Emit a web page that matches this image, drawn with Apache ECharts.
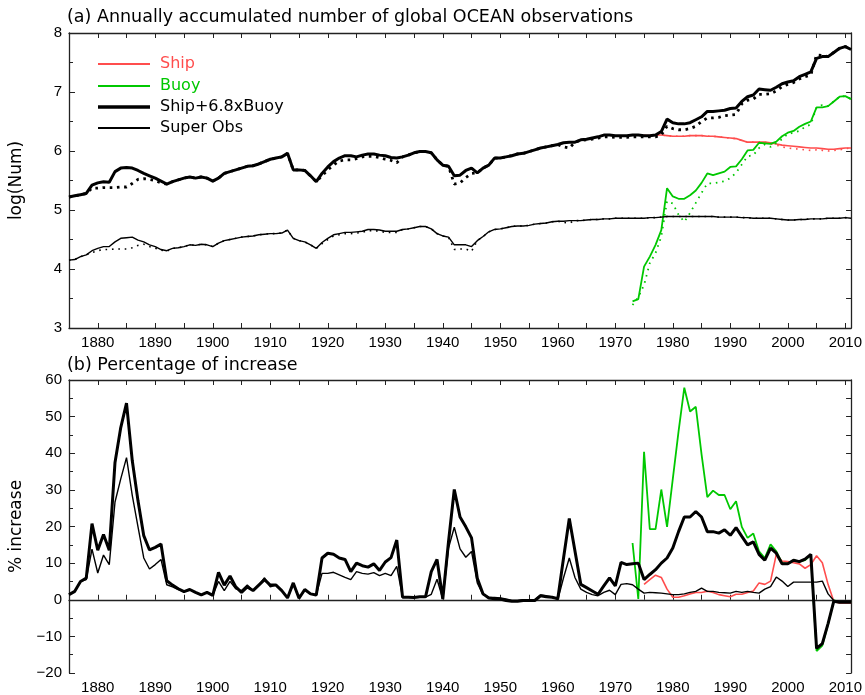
<!DOCTYPE html>
<html>
<head>
<meta charset="utf-8">
<script src="https://cdn.jsdelivr.net/npm/echarts@6/dist/echarts.min.js"></script>
<style>html,body{margin:0;padding:0;background:#fff}#c{width:865px;height:695px}</style>
</head>
<body>
<div id="c"></div>
<script>
// ---------- data (years 1875..2011 unless a start year is given) ----------
const START_YEAR = 1875;
const X_TICK_LABELS = [1880, 1890, 1900, 1910, 1920, 1930, 1940, 1950, 1960, 1970, 1980, 1990, 2000, 2010];

// (a) log10 of annually accumulated number of observations
const shipBuoyLog = [
  5.22, 5.24, 5.26, 5.28, 5.42,
  5.46, 5.48, 5.47, 5.65, 5.71, 5.72, 5.71, 5.67, 5.62, 5.58,
  5.54, 5.49, 5.44, 5.48, 5.51, 5.54, 5.56, 5.54, 5.56, 5.54,
  5.49, 5.54, 5.62, 5.65, 5.68, 5.71, 5.74, 5.75, 5.78, 5.82,
  5.86, 5.88, 5.90, 5.96, 5.68, 5.68, 5.67, 5.58, 5.48, 5.62,
  5.73, 5.82, 5.88, 5.92, 5.92, 5.90, 5.93, 5.95, 5.95, 5.93,
  5.92, 5.89, 5.88, 5.90, 5.93, 5.97, 5.99, 5.99, 5.97, 5.85,
  5.76, 5.74, 5.58, 5.59, 5.67, 5.71, 5.63, 5.71, 5.76, 5.88,
  5.88, 5.90, 5.92, 5.95, 5.96, 5.99, 6.02, 6.05, 6.07, 6.09,
  6.11, 6.14, 6.15, 6.15, 6.19, 6.20, 6.22, 6.24, 6.27, 6.27,
  6.26, 6.26, 6.26, 6.27, 6.27, 6.26, 6.26, 6.27, 6.33, 6.54,
  6.48, 6.46, 6.46, 6.48, 6.53, 6.58, 6.67, 6.67, 6.68, 6.69,
  6.72, 6.73, 6.84, 6.92, 6.95, 7.05, 7.04, 7.03, 7.08, 7.14,
  7.17, 7.19, 7.26, 7.30, 7.34, 7.57, 7.60, 7.60, 7.67, 7.74,
  7.77, 7.72
];
const shipBuoyLogDotted = [
  5.22, 5.24, 5.26, 5.28, 5.37,
  5.37, 5.38, 5.38, 5.38, 5.39, 5.39, 5.45, 5.52, 5.53, 5.52,
  5.50, 5.46, 5.44, 5.48, 5.51, 5.54, 5.56, 5.54, 5.56, 5.54,
  5.49, 5.54, 5.62, 5.65, 5.68, 5.71, 5.74, 5.75, 5.78, 5.82,
  5.86, 5.88, 5.90, 5.96, 5.68, 5.68, 5.67, 5.58, 5.48, 5.58,
  5.68, 5.76, 5.83, 5.85, 5.85, 5.87, 5.90, 5.91, 5.91, 5.89,
  5.86, 5.84, 5.80, 5.90, 5.93, 5.97, 5.99, 5.99, 5.97, 5.85,
  5.76, 5.74, 5.44, 5.46, 5.55, 5.62, 5.63, 5.71, 5.76, 5.88,
  5.88, 5.90, 5.92, 5.95, 5.96, 5.99, 6.02, 6.05, 6.07, 6.09,
  6.11, 6.07, 6.05, 6.15, 6.18, 6.19, 6.20, 6.22, 6.24, 6.24,
  6.23, 6.23, 6.23, 6.24, 6.24, 6.24, 6.24, 6.24, 6.27, 6.42,
  6.38, 6.36, 6.36, 6.38, 6.42, 6.50, 6.56, 6.56, 6.57, 6.60,
  6.61, 6.62, 6.80, 6.86, 6.88, 6.96, 6.96, 6.97, 7.02, 7.09,
  7.13, 7.16, 7.22, 7.26, 7.29, 7.63, 7.62, 7.60, 7.67, 7.74,
  7.77, 7.72
];
const superObsLog = [
  4.15, 4.16, 4.21, 4.24, 4.31,
  4.35, 4.38, 4.38, 4.46, 4.52, 4.53, 4.54, 4.49, 4.46, 4.41,
  4.38, 4.33, 4.31, 4.35, 4.36, 4.38, 4.41, 4.40, 4.42, 4.41,
  4.38, 4.44, 4.48, 4.50, 4.52, 4.54, 4.55, 4.56, 4.58, 4.59,
  4.60, 4.60, 4.61, 4.66, 4.52, 4.48, 4.46, 4.41, 4.35, 4.45,
  4.52, 4.58, 4.60, 4.62, 4.62, 4.63, 4.64, 4.67, 4.67, 4.66,
  4.64, 4.64, 4.64, 4.67, 4.68, 4.70, 4.72, 4.72, 4.68, 4.60,
  4.56, 4.54, 4.41, 4.41, 4.41, 4.38, 4.48, 4.55, 4.63, 4.67,
  4.68, 4.70, 4.72, 4.73, 4.73, 4.74, 4.76, 4.77, 4.78, 4.80,
  4.81, 4.81, 4.82, 4.82, 4.82, 4.83, 4.84, 4.84, 4.85, 4.85,
  4.86, 4.86, 4.86, 4.86, 4.86, 4.86, 4.87, 4.87, 4.88, 4.89,
  4.89, 4.89, 4.89, 4.89, 4.89, 4.89, 4.89, 4.89, 4.88, 4.88,
  4.88, 4.88, 4.87, 4.87, 4.86, 4.86, 4.86, 4.86, 4.85, 4.84,
  4.83, 4.83, 4.84, 4.84, 4.85, 4.85, 4.85, 4.86, 4.86, 4.86,
  4.87, 4.86
];
const superObsLogDotted = [
  4.15, 4.16, 4.21, 4.24, 4.28,
  4.31, 4.33, 4.33, 4.34, 4.34, 4.34, 4.36, 4.40, 4.42, 4.38,
  4.35, 4.32, 4.30, 4.35, 4.36, 4.38, 4.41, 4.40, 4.42, 4.41,
  4.38, 4.44, 4.48, 4.50, 4.52, 4.54, 4.55, 4.56, 4.58, 4.59,
  4.60, 4.60, 4.61, 4.66, 4.52, 4.48, 4.46, 4.41, 4.35, 4.43,
  4.50, 4.56, 4.58, 4.60, 4.60, 4.61, 4.62, 4.65, 4.65, 4.64,
  4.62, 4.62, 4.62, 4.67, 4.68, 4.70, 4.72, 4.72, 4.68, 4.60,
  4.56, 4.54, 4.33, 4.34, 4.34, 4.30, 4.48, 4.55, 4.63, 4.67,
  4.68, 4.70, 4.72, 4.73, 4.73, 4.74, 4.76, 4.77, 4.78, 4.80,
  4.81, 4.79, 4.78, 4.82, 4.82, 4.83, 4.84, 4.84, 4.85, 4.85,
  4.86, 4.86, 4.86, 4.86, 4.86, 4.86, 4.87, 4.87, 4.88, 4.89,
  4.89, 4.89, 4.89, 4.89, 4.89, 4.89, 4.89, 4.89, 4.88, 4.88,
  4.88, 4.88, 4.87, 4.87, 4.86, 4.86, 4.86, 4.86, 4.85, 4.84,
  4.83, 4.83, 4.84, 4.84, 4.85, 4.85, 4.85, 4.86, 4.86, 4.86,
  4.87, 4.86
];
const SHIP_START = 1975;
const shipLog = [
  6.26, 6.26, 6.27, 6.27, 6.26,
  6.25, 6.25, 6.25, 6.26, 6.26, 6.26, 6.25, 6.25, 6.24, 6.23,
  6.22, 6.21, 6.18, 6.15, 6.15, 6.15, 6.15, 6.14, 6.12, 6.10,
  6.09, 6.08, 6.07, 6.06, 6.05, 6.05, 6.04, 6.03, 6.03, 6.04,
  6.05, 6.05
];
const shipLogDotted = [
  6.26, 6.26, 6.27, 6.27, 6.26,
  6.25, 6.25, 6.25, 6.26, 6.26, 6.26, 6.25, 6.25, 6.24, 6.23,
  6.22, 6.21, 6.18, 6.15, 6.15, 6.15, 6.15, 6.12, 6.10, 6.07,
  6.05, 6.04, 6.03, 6.02, 6.01, 6.02, 6.01, 6.00, 6.01, 6.02,
  6.04, 6.05
];
const BUOY_START = 1973;
const buoyLog = [
  3.45, 3.49, 4.04, 4.21, 4.41, 4.66, 5.37,
  5.23, 5.19, 5.19, 5.25, 5.33, 5.46, 5.62, 5.59, 5.62, 5.65,
  5.73, 5.74, 5.86, 6.01, 6.02, 6.14, 6.13, 6.12, 6.16, 6.25,
  6.31, 6.34, 6.41, 6.46, 6.50, 6.74, 6.74, 6.76, 6.84, 6.92,
  6.93, 6.88
];
const buoyLogDotted = [
  3.39, 3.52, 3.73, 4.10, 4.27, 4.55, 5.15,
  5.11, 4.92, 4.80, 4.95, 5.12, 5.29, 5.45, 5.45, 5.47, 5.49,
  5.54, 5.63, 5.77, 5.91, 5.93, 6.05, 6.11, 6.07, 6.14, 6.20,
  6.29, 6.31, 6.34, 6.41, 6.45, 6.74, 6.78, 6.76, 6.84, 6.92,
  6.93, 6.88
];

// (b) percentage of increase
const shipBuoyPct = [
  1.4, 2.3, 5.0, 5.9, 20.8,
  13.5, 17.8, 13.5, 37.5, 47.0, 53.7, 38.0, 27.0, 17.5, 13.6,
  14.3, 15.2, 5.2, 4.0, 3.0, 2.2, 2.8, 2.0, 1.3, 2.0,
  1.2, 7.5, 4.0, 6.5, 3.5, 2.0, 3.5, 2.5, 4.0, 5.5,
  4.0, 4.0, 2.5, 0.5, 4.6, 0.4, 2.8, 1.6, 1.3, 11.4,
  12.7, 12.4, 11.4, 11.0, 7.7, 10.0, 9.3, 8.9, 9.8, 8.0,
  10.3, 11.5, 16.3, 0.7, 0.7, 0.6, 0.8, 0.8, 7.7, 11.0,
  0.2, 15.9, 30.1, 22.6, 19.9, 16.9, 5.9, 1.6, 0.5, 0.3,
  0.2, -0.2, -0.4, -0.4, -0.2, -0.2, -0.2, 1.1, 0.8, 0.7,
  0.3, 11.4, 22.2, 13.2, 4.2, 3.3, 2.4, 1.5, 3.8, 6.0,
  3.8, 10.2, 9.6, 9.8, 10.0, 5.5, 6.9, 8.2, 10.0, 11.4,
  14.1, 18.6, 22.6, 22.6, 24.1, 22.6, 18.6, 18.6, 18.2, 19.1,
  17.6, 19.7, 17.3, 15.0, 15.8, 12.4, 10.8, 14.1, 12.7, 9.8,
  9.8, 10.8, 10.4, 11.1, 12.4, -13.3, -12.0, -6.5, -0.4, -0.7,
  -0.7, -0.7
];
const superObsPct = [
  1.4, 2.3, 5.0, 5.5, 13.8,
  7.3, 12.2, 9.6, 26.7, 33.0, 38.8, 28.5, 19.9, 11.4, 8.4,
  9.6, 11.0, 4.1, 3.5, 2.8, 2.2, 2.8, 2.0, 1.3, 2.0,
  1.2, 5.0, 2.5, 5.0, 3.0, 2.5, 4.0, 2.5, 4.0, 6.0,
  3.5, 4.0, 2.5, 0.5, 4.2, 0.4, 2.6, 1.6, 1.3, 7.2,
  7.2, 7.5, 6.8, 6.1, 5.5, 7.7, 7.2, 7.0, 7.4, 6.6,
  7.2, 6.6, 9.1, 0.7, 0.7, 0.6, 0.7, 0.7, 1.5, 5.6,
  0.2, 14.1, 19.8, 13.9, 11.6, 13.2, 4.6, 1.4, 0.7, 0.6,
  0.5, 0.2, -0.2, -0.2, 0.0, -0.1, 0.0, 1.3, 1.1, 0.8,
  0.0, 6.0, 11.4, 6.0, 2.9, 2.0, 1.4, 1.1, 2.0, 2.6,
  1.4, 4.2, 4.4, 4.1, 2.9, 1.8, 2.0, 1.9, 1.8, 1.6,
  1.4, 1.4, 1.6, 2.0, 2.3, 3.2, 2.3, 2.3, 2.0, 1.9,
  1.8, 2.3, 2.0, 2.3, 2.0, 1.8, 2.9, 3.6, 6.2, 5.1,
  3.6, 4.8, 4.8, 4.8, 4.8, 4.8, 5.1, 1.6, -0.2, -0.4,
  -0.4, -0.4
];
const shipPct = [
  4.2, 5.5, 6.7, 6.1, 2.9,
  0.7, 0.7, 1.1, 1.6, 2.0, 2.0, 2.3, 2.0, 1.4, 1.1,
  0.8, 1.5, 1.5, 2.0, 2.4, 4.6, 4.2, 5.1, 12.4, 10.6,
  10.4, 10.1, 9.8, 8.6, 9.6, 12.0, 10.1, 4.2, -0.5, -0.9,
  -0.9, -0.9
];
const buoyPct = [
  15.5, 0.2, 40.4, 19.3, 19.3, 30.1, 19.9,
  33.0, 46.0, 57.9, 51.4, 52.7, 39.7, 28.0, 29.8, 28.6, 28.6,
  24.7, 26.9, 19.9, 16.9, 18.1, 13.2, 11.4, 15.1, 13.2, 10.0,
  9.8, 10.8, 10.4, 10.8, 12.2, -14.0, -12.5, -6.7, -0.2, -0.5,
  -0.5, -0.5
];

// ---------- chart ----------
function pairs(start, vals) { return vals.map(function (v, i) { return [start + i, v]; }); }

const RED = '#ff4d4d';
const GREEN = '#00c800';
const BLACK = '#000000';
const AX = '#222222';
const TICK_FONT = 'Liberation Sans';
const TEXT_FONT = 'DejaVu Sans';

function xAxisPair(gridIndex) {
  return [
    {
      type: 'value', gridIndex: gridIndex, position: 'bottom',
      min: 1875, max: 2011, interval: 5,
      axisLine: { lineStyle: { color: AX, width: 1.3 } },
      axisTick: { inside: true, length: 5, lineStyle: { color: AX } },
      splitLine: { show: false },
      axisLabel: {
        color: '#000', fontSize: 15, fontFamily: TICK_FONT, margin: 7,
        showMinLabel: false, showMaxLabel: false,
        formatter: function (v) { return X_TICK_LABELS.indexOf(v) >= 0 ? String(v) : ''; }
      }
    },
    {
      type: 'value', gridIndex: gridIndex, position: 'top',
      min: 1875, max: 2011, interval: 5,
      axisLine: { onZero: false, lineStyle: { color: AX, width: 1.3 } },
      axisTick: { inside: true, length: 5, lineStyle: { color: AX } },
      splitLine: { show: false },
      axisLabel: { show: false }
    }
  ];
}

function yAxisPair(gridIndex, min, max, interval, minorStep, name, nameGap) {
  return [
    {
      type: 'value', gridIndex: gridIndex, position: 'left',
      min: min, max: max, interval: interval,
      name: name, nameLocation: 'middle', nameGap: nameGap,
      nameTextStyle: { color: '#000', fontSize: 17, fontFamily: TEXT_FONT },
      axisLine: { show: true, onZero: false, lineStyle: { color: AX, width: 1.3 } },
      axisTick: { show: true, inside: true, length: 6, lineStyle: { color: AX } },
      minorTick: { show: true, splitNumber: 2, length: 4, lineStyle: { color: AX } },
      splitLine: { show: false },
      minorSplitLine: { show: false },
      axisLabel: {
        color: '#000', fontSize: 15, fontFamily: TICK_FONT, margin: 7,
        formatter: function (v) { return v < 0 ? '\u2212' + Math.abs(v) : String(v); }
      }
    },
    {
      type: 'value', gridIndex: gridIndex, position: 'right',
      min: min, max: max, interval: minorStep,
      axisLine: { show: true, onZero: false, lineStyle: { color: AX, width: 1.3 } },
      axisTick: { show: true, inside: true, length: 5, lineStyle: { color: AX } },
      splitLine: { show: false },
      axisLabel: { show: false }
    }
  ];
}

function lineSeries(name, xi, yi, data, color, width, dash, z) {
  return {
    name: name, type: 'line', xAxisIndex: xi, yAxisIndex: yi,
    data: data, showSymbol: false, symbol: 'none', z: z,
    color: color,
    lineStyle: { color: color, width: width, type: dash || 'solid', cap: 'butt' },
    emphasis: { disabled: true }, silent: true
  };
}

function legendItem(name, top, color, height) {
  return {
    data: [{ name: name, textStyle: { color: color } }],
    left: 98, top: top, icon: 'rect', itemWidth: 52, itemHeight: height,
    padding: 0, selectedMode: false,
    textStyle: { fontSize: 16, fontFamily: TEXT_FONT, padding: [0, 0, 0, 5] }
  };
}

const chart = echarts.init(document.getElementById('c'), null, { renderer: 'canvas' });
const xa = xAxisPair(0).concat(xAxisPair(1));
const ya = yAxisPair(0, 3, 8, 1, 0.5, 'log(Num)', 44).concat(yAxisPair(1, -20, 60, 10, 5, '% increase', 44));

const zeroLine = {
  silent: true, symbol: 'none', label: { show: false },
  lineStyle: { color: '#222', width: 1, type: 'solid' },
  data: [{ yAxis: 0 }]
};

const THICK_DOT = [2.6, 4.6];
const THIN_DOT = [1.6, 4.8];

const pctThick = lineSeries('Ship+6.8xBuoy %', 2, 2, pairs(START_YEAR, shipBuoyPct), BLACK, 3, null, 8);
pctThick.markLine = zeroLine;

chart.setOption({
  animation: false,
  backgroundColor: '#fff',
  title: [
    { text: '(a) Annually accumulated number of global OCEAN observations', left: 67, top: 8, padding: 0,
      textStyle: { fontSize: 17.5, fontWeight: 'normal', color: '#000', fontFamily: TEXT_FONT } },
    { text: '(b) Percentage of increase', left: 67, top: 356, padding: 0,
      textStyle: { fontSize: 17.5, fontWeight: 'normal', color: '#000', fontFamily: TEXT_FONT } }
  ],
  legend: [
    legendItem('Ship', 56, RED, 2),
    legendItem('Buoy', 78, GREEN, 2),
    legendItem('Ship+6.8xBuoy', 99, BLACK, 3.5),
    legendItem('Super Obs', 120, BLACK, 1.8)
  ],
  grid: [
    { left: 69, right: 11, top: 33, height: 295, containLabel: false },
    { left: 69, right: 11, top: 380, height: 296, containLabel: false }
  ],
  xAxis: xa,
  yAxis: ya,
  series: [
    // panel (a)
    lineSeries('Ship dotted', 0, 0, pairs(SHIP_START, shipLogDotted), RED, 1.6, THIN_DOT, 2),
    lineSeries('Ship', 0, 0, pairs(SHIP_START, shipLog), RED, 1.6, null, 3),
    lineSeries('Buoy dotted', 0, 0, pairs(BUOY_START, buoyLogDotted), GREEN, 1.8, THIN_DOT, 4),
    lineSeries('Buoy', 0, 0, pairs(BUOY_START, buoyLog), GREEN, 1.8, null, 5),
    lineSeries('Super Obs dotted', 0, 0, pairs(START_YEAR, superObsLogDotted), BLACK, 1.6, THIN_DOT, 6),
    lineSeries('Super Obs', 0, 0, pairs(START_YEAR, superObsLog), BLACK, 1.4, null, 7),
    lineSeries('Ship+6.8xBuoy dotted', 0, 0, pairs(START_YEAR, shipBuoyLogDotted), BLACK, 2.8, THICK_DOT, 8),
    lineSeries('Ship+6.8xBuoy', 0, 0, pairs(START_YEAR, shipBuoyLog), BLACK, 3, null, 9),
    // panel (b)
    lineSeries('Ship %', 2, 2, pairs(SHIP_START, shipPct), RED, 1.6, null, 3),
    lineSeries('Buoy %', 2, 2, pairs(BUOY_START, buoyPct), GREEN, 1.8, null, 4),
    lineSeries('Super Obs %', 2, 2, pairs(START_YEAR, superObsPct), BLACK, 1.4, null, 6),
    pctThick
  ]
});
</script>
</body>
</html>
